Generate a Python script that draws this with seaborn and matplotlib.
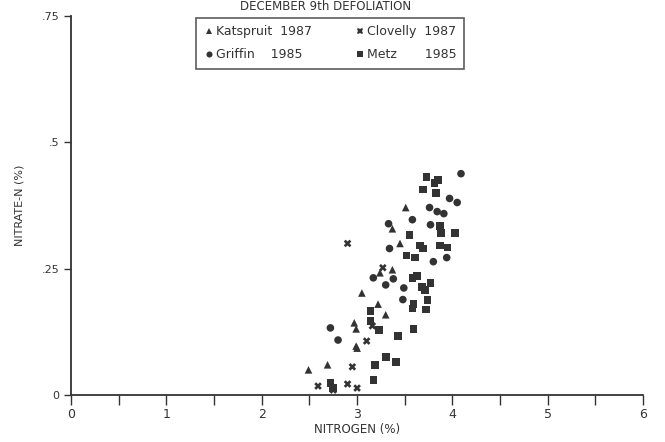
import pandas as pd
import matplotlib
matplotlib.use("Agg")
import matplotlib.pyplot as plt
import seaborn as sns

# ---- data ----
katspruit_n = [3.51, 3.45, 3.37, 3.05, 3.22, 3.30, 2.97, 2.99, 2.99, 3.00, 2.69, 2.49, 3.37, 3.24]
katspruit_no3 = [0.371, 0.300, 0.248, 0.202, 0.180, 0.159, 0.143, 0.131, 0.097, 0.093, 0.060, 0.050, 0.329, 0.242]

clovelly_n = [2.90, 3.10, 2.95, 2.59, 2.90, 3.00, 3.16, 3.27, 2.75]
clovelly_no3 = [0.300, 0.107, 0.056, 0.018, 0.022, 0.014, 0.137, 0.252, 0.010]

griffin_n = [4.09, 3.76, 3.84, 3.97, 4.05, 3.91, 3.58, 3.77, 3.33, 3.34, 3.80, 3.94,
             3.17, 3.38, 3.30, 3.49, 3.48, 2.72, 2.80]
griffin_no3 = [0.438, 0.371, 0.363, 0.389, 0.381, 0.359, 0.347, 0.337, 0.339, 0.290, 0.264, 0.272,
               0.232, 0.230, 0.218, 0.212, 0.189, 0.133, 0.109]

metz_n = [3.73, 3.85, 3.81, 3.69, 3.83, 3.87, 3.88, 4.03, 3.55, 3.66, 3.69, 3.87, 3.95,
          3.52, 3.61, 3.58, 3.63, 3.68, 3.71, 3.77, 3.74, 3.59, 3.58, 3.72, 3.14, 3.14,
          3.23, 3.43, 3.59, 3.30, 3.41, 3.19, 3.17, 2.72, 2.75]
metz_no3 = [0.431, 0.425, 0.419, 0.407, 0.400, 0.335, 0.321, 0.321, 0.317, 0.296, 0.290, 0.296, 0.292,
            0.276, 0.272, 0.232, 0.236, 0.214, 0.208, 0.222, 0.188, 0.180, 0.171, 0.169, 0.167, 0.147,
            0.129, 0.117, 0.131, 0.075, 0.065, 0.060, 0.030, 0.024, 0.014]

# order chosen so the 2-column legend reads row-wise like the original
groups = ["Katspruit  1987", "Griffin    1985", "Clovelly  1987", "Metz       1985"]

df = pd.concat([
    pd.DataFrame({"N": katspruit_n, "NO3": katspruit_no3, "site": groups[0]}),
    pd.DataFrame({"N": griffin_n, "NO3": griffin_no3, "site": groups[1]}),
    pd.DataFrame({"N": clovelly_n, "NO3": clovelly_no3, "site": groups[2]}),
    pd.DataFrame({"N": metz_n, "NO3": metz_no3, "site": groups[3]}),
])

sns.set_style("white")
plt.rcParams["font.family"] = ["DejaVu Sans"]

ink = "#333333"
fig = plt.figure(figsize=(6.65, 4.42), dpi=100)
ax = fig.add_axes([0.107, 0.106, 0.86, 0.858])

markers = {groups[0]: "^", groups[1]: "o", groups[2]: "X", groups[3]: "s"}
sns.scatterplot(data=df, x="N", y="NO3", style="site", markers=markers,
                hue="site", palette=[ink] * 4, s=30, linewidth=0,
                ax=ax, legend=True)

ax.set_xlim(0, 6)
ax.set_ylim(0, 0.75)
ax.set_xticks(range(7))
ax.set_xticks([0.5, 1.5, 2.5, 3.5, 4.5, 5.5], minor=True)
ax.set_yticks([0, 0.25, 0.5, 0.75])
ax.set_yticklabels(["0", ".25", ".5", ".75"])
ax.tick_params(axis="x", which="both", direction="out", length=7, width=1, color=ink,
               labelsize=9, labelcolor=ink, bottom=True, pad=2)
ax.tick_params(axis="y", direction="out", length=5, width=1, color=ink,
               labelsize=8, labelcolor=ink, left=True)
for side in ["top", "right"]:
    ax.spines[side].set_visible(False)
for side in ["left", "bottom"]:
    ax.spines[side].set_color(ink)
    ax.spines[side].set_linewidth(1.3)

ax.set_xlabel("NITROGEN (%)", fontsize=8.5, color=ink, labelpad=2)
ax.set_ylabel("NITRATE-N (%)", fontsize=8, color=ink, labelpad=12)
ax.set_title("DECEMBER 9th DEFOLIATION", fontsize=8.5, color=ink, x=0.445, y=1.0, pad=4)

leg = ax.legend(loc="upper center", bbox_to_anchor=(0.453, 1.012), ncol=2,
                frameon=True, fancybox=False, edgecolor=ink, fontsize=9,
                handletextpad=0.2, columnspacing=3.4, handlelength=0.8,
                markerscale=0.8, borderpad=0.6, labelspacing=0.8)
leg.get_frame().set_linewidth(1.2)
for t in leg.get_texts():
    t.set_color(ink)

plt.savefig("out.png", dpi=100)
